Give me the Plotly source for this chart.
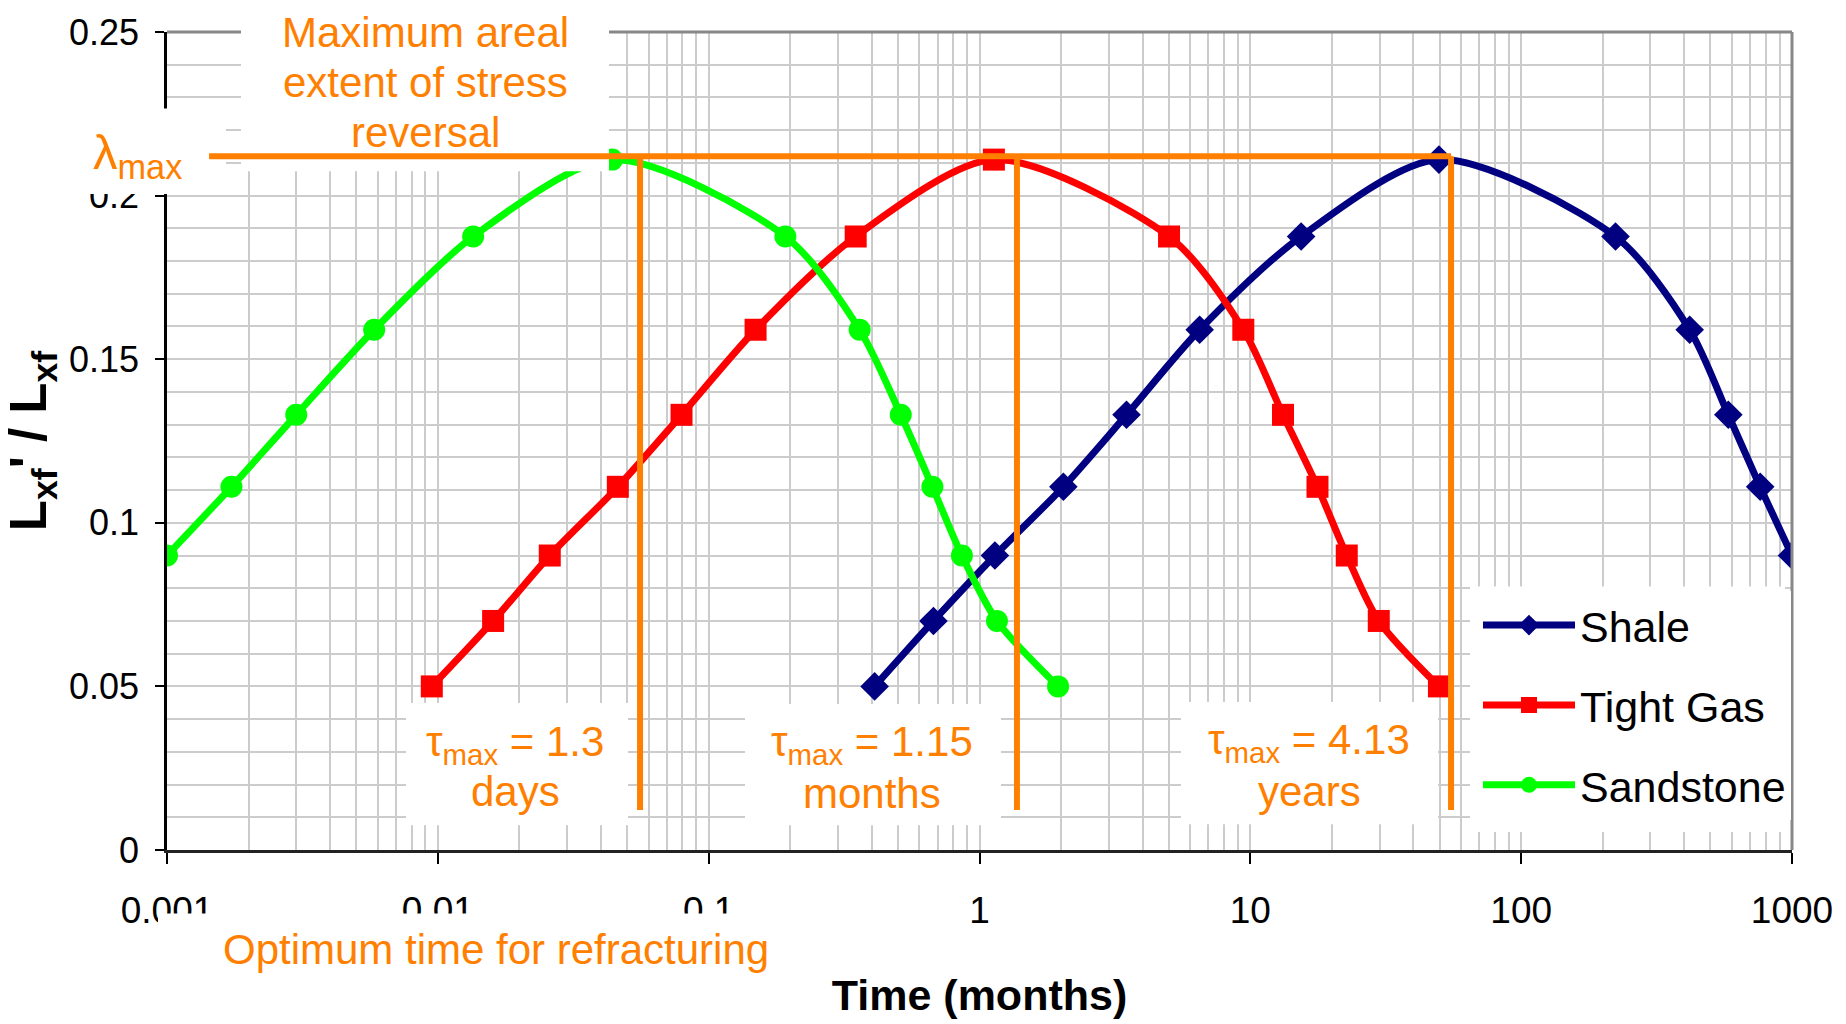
import plotly.graph_objects as go

# ---------------- data ----------------
shale_x = [0.41, 0.676, 1.14, 2.04, 3.49, 6.5, 15.4, 49.7, 223, 419, 582, 763, 1000]
shale_y = [0.05, 0.07, 0.09, 0.111, 0.133, 0.159, 0.1875, 0.211, 0.1875, 0.159, 0.133, 0.111, 0.09]

tight_x = [0.0095, 0.016, 0.0259, 0.0462, 0.0794, 0.149, 0.349, 1.13, 5.01, 9.42, 13.2, 17.7, 22.7, 29.8, 49.7]
tight_y = [0.05, 0.07, 0.09, 0.111, 0.133, 0.159, 0.1875, 0.211, 0.1875, 0.159, 0.133, 0.111, 0.09, 0.07, 0.05]

sand_x = [0.001, 0.00173, 0.0030, 0.00582, 0.0135, 0.0440, 0.192, 0.361, 0.512, 0.670, 0.861, 1.16, 1.95]
sand_y = [0.09, 0.111, 0.133, 0.159, 0.1875, 0.211, 0.1875, 0.159, 0.133, 0.111, 0.09, 0.07, 0.05]

lambda_max = 0.212
lambda_start = 0.00143
tau_x = [0.0558, 1.375, 55.1]          # optimum refrac times (months) on the chart
tau_bottom = 0.0122

x_tickvals = [0.001, 0.01, 0.1, 1, 10, 100, 1000]
x_ticktext = ["0.001", "0.01", "0.1", "1", "10", "100", "1000"]
y_tickvals = [0, 0.05, 0.1, 0.15, 0.2, 0.25]
y_ticktext = ["0", "0.05", "0.1", "0.15", "0.2", "0.25"]

series_names = ["Shale", "Tight Gas", "Sandstone"]

# ---------------- styling ----------------
NARROW = "Liberation Sans Narrow, Arial Narrow, Liberation Sans, Arial, sans-serif"
REG = "Liberation Sans, Arial, sans-serif"
ORANGE = "#FF8000"
GRID = "#cccccc"

W, H = 1846, 1024
L, R, T, B = 167, 1792, 30, 853


def px(x):
    return (x - L) / (R - L)


def py(y):
    return (B - y) / (B - T)


fig = go.Figure()

fig.add_trace(go.Scatter(
    x=shale_x, y=shale_y, name=series_names[0], mode="lines+markers",
    line=dict(color="#000080", width=7, shape="spline", smoothing=0.8),
    marker=dict(symbol="diamond", size=22, color="#000080"),
    legendgroup="a"))
fig.add_trace(go.Scatter(
    x=tight_x, y=tight_y, name=series_names[1], mode="lines+markers",
    line=dict(color="#FF0000", width=7, shape="spline", smoothing=0.8),
    marker=dict(symbol="square", size=22, color="#FF0000"),
    legendgroup="b"))
fig.add_trace(go.Scatter(
    x=sand_x, y=sand_y, name=series_names[2], mode="lines+markers",
    line=dict(color="#00FF00", width=7, shape="spline", smoothing=0.8),
    marker=dict(symbol="circle", size=22, color="#00FF00"),
    legendgroup="c"))

shapes = []
# top / right plot border (gray)
shapes.append(dict(type="line", xref="paper", yref="paper", x0=0, x1=1, y0=1, y1=1,
                   line=dict(color="#888888", width=3), layer="above"))
shapes.append(dict(type="line", xref="paper", yref="paper", x0=1, x1=1, y0=0, y1=1,
                   line=dict(color="#888888", width=3), layer="above"))

# white text-box backgrounds
for (x0, y0, x1, y1) in [(241, -5, 609, 170), (60, 107, 226, 193),
                         (406, 705, 628, 828), (745, 706, 1001, 828),
                         (1181, 704, 1438, 827), (158, 917, 790, 1012),
                         (1470, 588, 1785, 835)]:
    shapes.append(dict(type="rect", xref="paper", yref="paper",
                       x0=px(x0), x1=px(x1), y0=py(y1), y1=py(y0),
                       fillcolor="white", line=dict(width=0), layer="above"))

# orange guide lines
shapes.append(dict(type="line", xref="x", yref="y", x0=lambda_start, x1=tau_x[-1],
                   y0=lambda_max, y1=lambda_max, line=dict(color=ORANGE, width=6), layer="above"))
for tx in tau_x:
    shapes.append(dict(type="line", xref="x", yref="y", x0=tx, x1=tx,
                       y0=tau_bottom, y1=lambda_max, line=dict(color=ORANGE, width=6), layer="above"))

annotations = []


def add_text(text, cx, cy, size=42, family=REG, color=ORANGE):
    annotations.append(dict(text=text, xref="paper", yref="paper", x=px(cx), y=py(cy),
                            xanchor="center", yanchor="middle", showarrow=False,
                            font=dict(family=family, size=size, color=color)))


add_text("Maximum areal", 425, 31)
add_text("extent of stress", 425, 81)
add_text("reversal", 425, 131)
add_text("λ<sub>max</sub>", 137, 154, size=49)
add_text("τ<sub>max</sub> = 1.3", 515, 747)
add_text("days", 515, 794)
add_text("τ<sub>max</sub> = 1.15", 872, 747)
add_text("months", 872, 796)
add_text("τ<sub>max</sub> = 4.13", 1309, 745)
add_text("years", 1309, 794)
add_text("Optimum time for refracturing", 496, 953)

minor_x = [m * 10.0 ** e for e in range(-3, 3) for m in range(2, 10)]

fig.update_layout(
    width=W, height=H,
    margin=dict(l=L, r=W - R, t=T, b=H - B, pad=0),
    paper_bgcolor="white", plot_bgcolor="white",
    shapes=shapes, annotations=annotations,
    showlegend=True,
    legend=dict(x=px(1478), y=py(592), xanchor="left", yanchor="top",
                bgcolor="white", borderwidth=0, tracegroupgap=21, itemwidth=92,
                font=dict(family=NARROW, size=43, color="black")),
    xaxis=dict(type="log", range=[-3, 3], tickmode="array", tickvals=x_tickvals, ticktext=x_ticktext,
               ticks="outside", ticklen=11, tickwidth=2, tickcolor="black",
               showline=True, linecolor="#222222", linewidth=3,
               showgrid=True, gridcolor=GRID, gridwidth=1.5, zeroline=False,
               minor=dict(tickmode="array", tickvals=minor_x, showgrid=True, gridcolor=GRID, gridwidth=1.5, ticks=""),
               tickfont=dict(family=NARROW, size=37, color="black"), ticklabelstandoff=15,
               title=dict(text="<b>Time (months)</b>", standoff=50,
                          font=dict(family=NARROW, size=43, color="black"))),
    yaxis=dict(range=[0, 0.25], tickmode="array", tickvals=y_tickvals, ticktext=y_ticktext,
               ticks="outside", ticklen=9, tickwidth=2, tickcolor="black",
               showline=True, linecolor="black", linewidth=2.5,
               showgrid=True, gridcolor=GRID, gridwidth=2, zeroline=False,
               minor=dict(dtick=0.01, tick0=0, showgrid=True, gridcolor=GRID, gridwidth=2, ticks=""),
               tickfont=dict(family=NARROW, size=36, color="black"), ticklabelstandoff=9,
               title=dict(text="<b>L<sub>xf</sub>' / L<sub>xf</sub></b>", standoff=14,
                          font=dict(family=NARROW, size=51, color="black"))),
)

fig.write_html("out.html", config={"displayModeBar": False},
               post_script="document.body.style.margin='0';")
